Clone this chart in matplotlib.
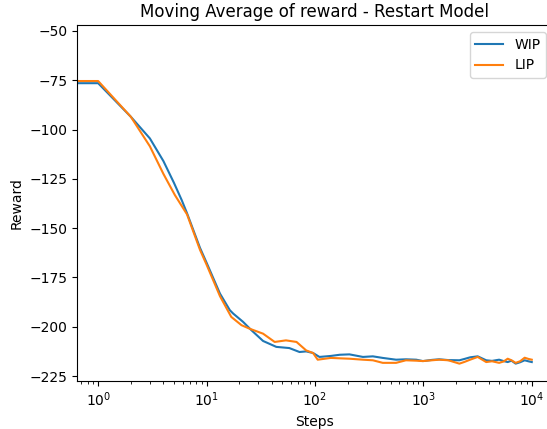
import matplotlib
matplotlib.use("Agg")
import matplotlib.pyplot as plt

# moving average of reward (step, value)
wip_steps = [0, 1, 2, 3, 4, 5, 5.9, 6.6, 8.7, 10, 13.3, 16.4, 17.6, 21.7, 26,
             33.2, 44, 58, 72, 83, 96, 110, 140, 169, 208, 277, 342, 422,
             560, 690, 860, 990, 1200, 1400, 1700, 2150, 2400, 2700, 3170,
             3800, 4300, 5000, 5500, 6000, 6500, 7100, 7800, 8600, 9300, 10000]
wip_vals = [-76.5, -76.5, -93.5, -104.5, -116, -127, -135.8, -142.4, -160.0,
            -167.5, -183.2, -191.6, -193.3, -197.5, -201.8, -207.2, -210.2,
            -210.8, -212.8, -212.5, -213.3, -215.3, -214.8, -214.2, -214.0,
            -215.3, -215.0, -215.8, -216.7, -216.5, -216.7, -217.4, -216.8,
            -216.5, -216.9, -217.0, -216.3, -215.5, -215.0, -217.0, -217.3,
            -216.7, -217.4, -217.9, -217.2, -218.7, -218.0, -217.0, -217.5,
            -217.9]

lip_steps = [0, 1, 2, 3, 4, 5.1, 6.6, 8.7, 10, 13.3, 16.9, 21, 25, 28, 33.2,
             42.5, 54, 67.6, 83, 96, 106, 140, 169, 208, 277, 342, 422, 560,
             690, 860, 990, 1200, 1400, 1700, 2150, 2400, 2700, 3170, 3800,
             4300, 5000, 5500, 6000, 6500, 7100, 7800, 8600, 9300, 10000]
lip_vals = [-75.4, -75.4, -93.5, -108.5, -122.5, -133.2, -143.0, -161.0,
            -168.5, -184.5, -195, -199.2, -201, -202, -203.5, -207.7, -206.9,
            -207.7, -212, -213.3, -216.7, -215.8, -216.0, -216.2, -216.7,
            -217.0, -218.3, -218.3, -217.0, -217.2, -217.4, -217.0, -216.7,
            -217.0, -218.7, -217.8, -216.7, -215.3, -217.9, -217.5, -218.3,
            -217.6, -216.2, -217.0, -218.3, -217.5, -215.7, -216.3, -216.7]

fig = plt.figure(figsize=(5.47, 4.29), dpi=100)
ax = fig.add_axes([0.1408, 0.1119, 0.870, 0.8298])

ax.plot(wip_steps, wip_vals, color="tab:blue", label="WIP")
ax.plot(lip_steps, lip_vals, color="tab:orange", label="LIP")
ax.set_xscale("log")
ax.set_xlim(10 ** -0.195, 10 ** 4.195)
ax.set_ylim(-227.5, -47)

ax.set_title("Moving Average of reward - Restart Model")
ax.set_xlabel("Steps")
ax.set_ylabel("Reward")
ax.legend(loc="upper right")

fig.savefig("out.png", dpi=100)
